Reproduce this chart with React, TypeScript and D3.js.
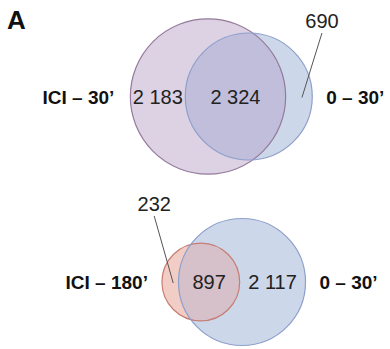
import React from "react";
import * as d3 from "d3";

// set names and region counts (only-left, shared, only-right)
const setNames = [
  ["ICI – 30’", "0 – 30’"],
  ["ICI – 180’", "0 – 30’"],
];
const counts = [
  [2183, 2324, 690],
  [232, 897, 2117],
];
const labelText = [
  ["2 183", "2 324", "690"],
  ["232", "897", "2 117"],
];

const fills = [
  { left: "#dcd2e4", right: "#ccd8ea", both: "#c1bedb", leftStroke: "#957a9c", rightStroke: "#8f9fcb" },
  { left: "#f2cdc6", right: "#ccd8ea", both: "#d6c0c9", leftStroke: "#c67d73", rightStroke: "#8f9fcb" },
];

const font = "'Liberation Sans', Arial, sans-serif";

function lens(r1: number, r2: number, d: number) {
  if (d >= r1 + r2) return 0;
  if (d <= Math.abs(r1 - r2)) return Math.PI * Math.min(r1, r2) ** 2;
  const a1 = r1 * r1 * Math.acos((d * d + r1 * r1 - r2 * r2) / (2 * d * r1));
  const a2 = r2 * r2 * Math.acos((d * d + r2 * r2 - r1 * r1) / (2 * d * r2));
  const t = Math.sqrt((-d + r1 + r2) * (d + r1 - r2) * (d - r1 + r2) * (d + r1 + r2));
  return a1 + a2 - 0.5 * t;
}

// find the distance between centres that gives the wanted overlap
function solveDist(r1: number, r2: number, area: number) {
  let lo = Math.abs(r1 - r2), hi = r1 + r2;
  for (let i = 0; i < 60; i++) {
    const m = (lo + hi) / 2;
    if (lens(r1, r2, m) > area) lo = m; else hi = m;
  }
  return (lo + hi) / 2;
}

const rScale = d3.scaleSqrt().domain([0, 3014]).range([0, 63.5]);

// where each diagram sits: cy, and x of whichever circle is the anchor
const layout = [
  { cy: 96.5, anchor: "left", ax: 208, gapL: 16, gapR: 14, calloutY: 28, calloutDx: 23 },
  { cy: 282, anchor: "right", ax: 242, gapL: 14, gapR: 14, calloutY: 211, calloutDx: -16 },
];

function Venn({ i }: { i: number }) {
  const [a, ab, b] = counts[i];
  const L = layout[i];
  const c = fills[i];
  const r1 = rScale(a + ab);
  const r2 = rScale(b + ab);
  const k = Math.PI * rScale(3014) ** 2 / 3014;
  const d = solveDist(r1, r2, ab * k);
  const x1 = L.anchor === "left" ? L.ax : L.ax - d;
  const x2 = x1 + d;
  const cy = L.cy;
  const id = `clip${i}`;
  const t = labelText[i];
  const regions = [
    [x1 - r1, x2 - r2],
    [x2 - r2, x1 + r1],
    [x1 + r1, x2 + r2],
  ];
  const mid = (r: number[]) => (r[0] + r[1]) / 2;
  const small = [a, ab, b].map((v) => v < 800);
  return (
    <g>
      <defs>
        <clipPath id={id}>
          <circle cx={x1} cy={cy} r={r1} />
        </clipPath>
      </defs>
      <circle cx={x1} cy={cy} r={r1} fill={c.left} />
      <circle cx={x2} cy={cy} r={r2} fill={c.right} />
      <circle cx={x2} cy={cy} r={r2} fill={c.both} clipPath={`url(#${id})`} />
      <circle cx={x1} cy={cy} r={r1} fill="none" stroke={c.leftStroke} strokeWidth={1.2} />
      <circle cx={x2} cy={cy} r={r2} fill="none" stroke={c.rightStroke} strokeWidth={1.2} />
      {regions.map((r, j) =>
        small[j] ? (
          <g key={j}>
            <line
              x1={mid(r) + L.calloutDx}
              y1={L.calloutY + 5}
              x2={mid(r) + 3}
              y2={cy + 1}
              stroke="#555"
              strokeWidth={1}
            />
            <text x={mid(r) + L.calloutDx} y={L.calloutY} textAnchor="middle" fontSize={20} fill="#222" fontFamily={font}>
              {t[j]}
            </text>
          </g>
        ) : (
          <text key={j} x={mid(r)} y={cy + 7} textAnchor="middle" fontSize={20} fill="#222" fontFamily={font}>
            {t[j]}
          </text>
        )
      )}
      <text x={x1 - r1 - L.gapL} y={cy + 7} textAnchor="end" fontSize={19} fontWeight="bold" fill="#111" fontFamily={font}>
        {setNames[i][0]}
      </text>
      <text x={x2 + r2 + L.gapR} y={cy + 7} textAnchor="start" fontSize={19} fontWeight="bold" fill="#111" fontFamily={font}>
        {setNames[i][1]}
      </text>
    </g>
  );
}

export default function App() {
  return (
    <div style={{ position: "absolute", left: 0, top: 0 }}>
      <svg width={390} height={349} style={{ display: "block", background: "#fff" }}>
        <text x={7} y={29} fontSize={26} fontWeight="bold" fill="#111" fontFamily={font}>
          A
        </text>
        <Venn i={0} />
        <Venn i={1} />
      </svg>
    </div>
  );
}
